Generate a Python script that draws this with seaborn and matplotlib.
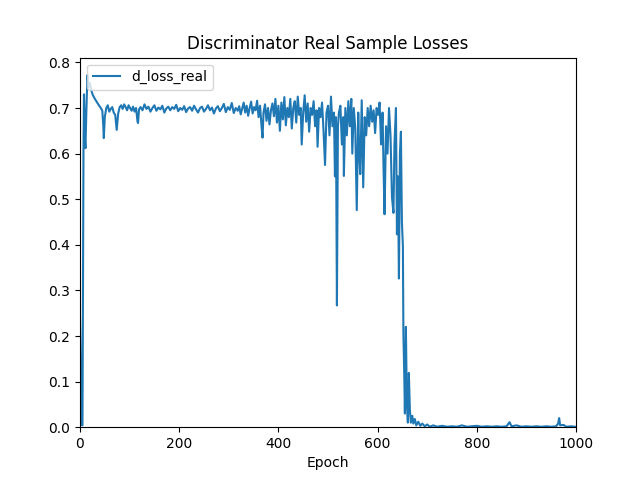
import matplotlib
matplotlib.use("Agg")
import matplotlib.pyplot as plt
import seaborn as sns

# values (epoch, d_loss_real)
epochs = [
    0, 2, 3, 5, 7, 8, 10, 11, 13, 15, 17, 20, 23, 26, 30, 34, 38,
    42, 45, 47, 48, 50, 53, 56, 59, 62, 65, 68, 71, 74, 77, 80, 83, 86, 89,
    92, 95, 98, 101, 104, 107, 110, 113, 116, 117, 119,
    122, 126, 130, 134, 138, 142, 146, 150, 154, 158, 162, 166, 170, 174,
    178, 182, 186, 190, 194, 198, 202, 206, 210, 214, 218, 222, 226, 230,
    234, 238, 242, 246, 250, 254, 258, 262, 266, 270, 274, 278, 282, 286,
    290, 294, 298, 302, 306, 310, 314, 318,
    321, 324, 327, 330, 333, 336, 339, 342, 345, 348, 351, 354, 357, 360,
    363, 366, 368, 370, 373, 376, 379, 382, 385, 388, 391, 394, 397, 400,
    403, 406, 409, 412, 415, 418, 421, 424, 427, 430, 433, 436, 439, 442,
    445, 447, 450, 453, 456, 459, 462, 465, 468, 471, 474, 477, 479, 482,
    485, 488, 491, 494, 497, 500, 503, 506, 509, 512, 514, 516, 518, 520,
    522, 525, 528, 531, 532, 535, 538, 541, 544, 547, 549, 552, 555, 558,
    561, 563, 565, 568, 571, 574, 577, 580, 583, 586, 589, 592, 595, 598,
    601, 604, 607, 610, 612, 614, 617, 620, 623, 626, 629, 632, 634, 637,
    639, 641, 643, 645, 647, 649, 651, 652, 654, 655, 657, 659, 661, 663,
    665, 667, 670, 672, 675, 678, 682, 686, 690,
    695, 700, 705, 712, 720, 730, 740, 750, 760, 770, 780, 790, 800, 810,
    820, 830, 840, 850, 860, 866, 870, 880, 890, 900, 910, 920, 930, 940,
    950, 960, 964, 966, 968, 975, 980, 990, 999,
]
d_loss_real = [
    0.24, 0.10, 0.005, 0.004, 0.60, 0.73, 0.63, 0.612, 0.70, 0.772, 0.745,
    0.755, 0.738, 0.728, 0.72, 0.713, 0.706,
    0.70, 0.694, 0.66, 0.634, 0.68, 0.70, 0.706, 0.692, 0.698, 0.702, 0.69,
    0.685, 0.652, 0.688, 0.702, 0.706, 0.698, 0.708,
    0.702, 0.695, 0.706, 0.70, 0.694, 0.703, 0.692, 0.70, 0.67, 0.667, 0.697,
    0.702, 0.695, 0.708, 0.698, 0.703, 0.692, 0.700, 0.706, 0.694, 0.701,
    0.697, 0.705, 0.690, 0.699, 0.703, 0.695, 0.702, 0.698, 0.707, 0.693,
    0.700, 0.696, 0.704, 0.691, 0.699, 0.702, 0.694, 0.705, 0.697, 0.690,
    0.700, 0.703, 0.692, 0.698, 0.706, 0.695, 0.701, 0.688, 0.699, 0.704,
    0.693, 0.700, 0.709, 0.691, 0.702, 0.696, 0.711, 0.689, 0.700, 0.694,
    0.704, 0.686, 0.699, 0.712, 0.690, 0.705, 0.683, 0.700, 0.714, 0.688,
    0.702, 0.695, 0.716, 0.68, 0.705, 0.66, 0.635, 0.69, 0.708, 0.672, 0.70,
    0.664, 0.695, 0.71, 0.682, 0.72, 0.668, 0.705,
    0.65, 0.712, 0.675, 0.724, 0.662, 0.70, 0.68, 0.72, 0.655, 0.70, 0.715,
    0.668, 0.725, 0.685, 0.70, 0.62, 0.69, 0.728, 0.67, 0.71, 0.648, 0.70,
    0.685, 0.715, 0.66, 0.695, 0.615, 0.70, 0.68, 0.712, 0.65, 0.575, 0.69,
    0.705, 0.64, 0.725, 0.66, 0.69, 0.55, 0.68, 0.267, 0.66,
    0.69, 0.705, 0.62, 0.68, 0.551, 0.70, 0.64, 0.715, 0.66, 0.72, 0.60,
    0.70, 0.655, 0.476, 0.69, 0.60, 0.555, 0.717, 0.526, 0.68, 0.64, 0.70,
    0.66, 0.705, 0.67, 0.695, 0.645, 0.70, 0.685, 0.712, 0.62, 0.69, 0.566,
    0.467, 0.66, 0.60, 0.70, 0.64, 0.504, 0.47, 0.62, 0.70, 0.423, 0.55,
    0.326, 0.60, 0.648, 0.45, 0.397, 0.207, 0.10, 0.03, 0.22, 0.05, 0.01,
    0.119, 0.04, 0.01, 0.025, 0.008, 0.018, 0.004, 0.012, 0.003, 0.008,
    0.002, 0.006, 0.001, 0.004, 0.001, 0.003, 0.001, 0.002, 0.001, 0.004,
    0.001, 0.002, 0.003, 0.001, 0.002, 0.001, 0.002, 0.001, 0.002, 0.011,
    0.002, 0.004, 0.001, 0.002, 0.001, 0.002, 0.001, 0.002, 0.001, 0.002,
    0.008, 0.02, 0.004, 0.005, 0.001, 0.002, 0.001,
]

fig, ax = plt.subplots(figsize=(6.4, 4.8), dpi=100)
sns.lineplot(x=epochs, y=d_loss_real, ax=ax, label='d_loss_real', color='#1f77b4')
ax.set_title('Discriminator Real Sample Losses')
ax.set_xlabel('Epoch')
ax.set_xlim(0, 1000)
ax.set_ylim(bottom=0)
ax.legend(loc='upper left')

fig.savefig('out.png', dpi=100)
